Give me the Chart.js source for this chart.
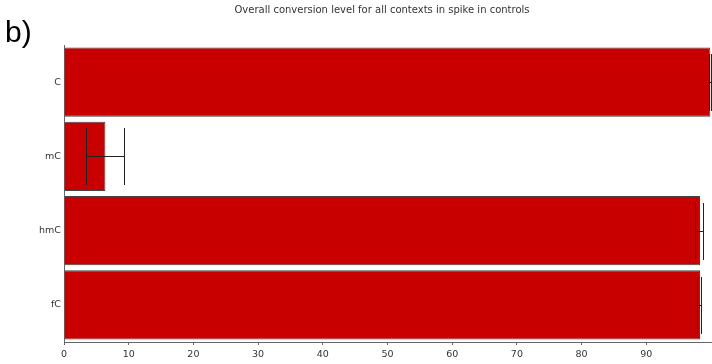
<!DOCTYPE html>
<html>
<head>
<meta charset="utf-8">
<script src="https://cdn.jsdelivr.net/npm/chart.js@4"></script>
<style>
  html, body { margin: 0; padding: 0; background: #fff; }
  #wrap { width: 712px; height: 364px; }
</style>
</head>
<body>
<div id="wrap"><canvas id="chart" width="712" height="364"></canvas></div>
<script>
// datos
const categorias = ['C', 'mC', 'hmC', 'fC'];
const conversion = [99.9, 6.4, 98.3, 98.3];
const errorBajo = [99.65, 3.45, 97.45, 97.85];
const errorAlto = [99.95, 9.25, 98.8, 98.4];
const ticksX = [0, 10, 20, 30, 40, 50, 60, 70, 80, 90];
const titulo = 'Overall conversion level for all contexts in spike in controls';
const panel = 'b)';

// barras de error sobre cada barra
const barrasError = {
  id: 'barrasError',
  afterDatasetsDraw(chart) {
    const ctx = chart.ctx;
    const x = chart.scales.x;
    const meta = chart.getDatasetMeta(0);
    ctx.save();
    ctx.strokeStyle = '#222';
    ctx.lineWidth = 1;
    meta.data.forEach((bar, i) => {
      const y = Math.round(bar.y) + 0.5;
      const x1 = Math.round(x.getPixelForValue(errorBajo[i])) + 0.5;
      const x2 = Math.round(x.getPixelForValue(errorAlto[i])) + 0.5;
      const h = 28.5;
      ctx.beginPath();
      ctx.moveTo(x1, y); ctx.lineTo(x2, y);
      ctx.moveTo(x1, y - h); ctx.lineTo(x1, y + h);
      ctx.moveTo(x2, y - h); ctx.lineTo(x2, y + h);
      ctx.stroke();
    });
    ctx.restore();
  }
};

// titulo y etiqueta del panel
const textos = {
  id: 'textos',
  afterDraw(chart) {
    const ctx = chart.ctx;
    ctx.save();
    ctx.fillStyle = '#333';
    ctx.font = '10px "DejaVu Sans"';
    ctx.textAlign = 'center';
    ctx.textBaseline = 'middle';
    ctx.fillText(titulo, 382, 10);
    ctx.fillStyle = '#000';
    ctx.font = '30px "Liberation Sans"';
    ctx.textAlign = 'left';
    ctx.textBaseline = 'alphabetic';
    ctx.fillText(panel, 5, 42);
    ctx.restore();
  }
};

new Chart(document.getElementById('chart'), {
  type: 'bar',
  data: {
    labels: categorias,
    datasets: [{
      data: conversion,
      backgroundColor: '#c80000',
      borderColor: '#444',
      borderWidth: 1,
      barPercentage: 0.93,
      categoryPercentage: 1
    }]
  },
  options: {
    indexAxis: 'y',
    responsive: false,
    animation: false,
    layout: { padding: { top: 45, right: 1, left: 0, bottom: 0 } },
    plugins: {
      legend: { display: false },
      tooltip: { enabled: false }
    },
    scales: {
      x: {
        min: 0,
        max: 100,
        afterBuildTicks: axis => { axis.ticks = ticksX.map(v => ({ value: v })); },
        afterFit: axis => { axis.height = 22; },
        grid: { drawOnChartArea: false, drawTicks: true, tickLength: 3, color: '#666' },
        border: { display: true, color: '#666' },
        ticks: { color: '#333', font: { family: 'DejaVu Sans', size: 9.5 }, padding: 4, maxRotation: 0 }
      },
      y: {
        afterFit: axis => { axis.width = 64; },
        grid: { display: false, drawTicks: false },
        border: { display: true, color: '#666' },
        ticks: { color: '#333', font: { family: 'DejaVu Sans', size: 9.5 }, padding: 3 }
      }
    }
  },
  plugins: [barrasError, textos]
});
</script>
</body>
</html>
